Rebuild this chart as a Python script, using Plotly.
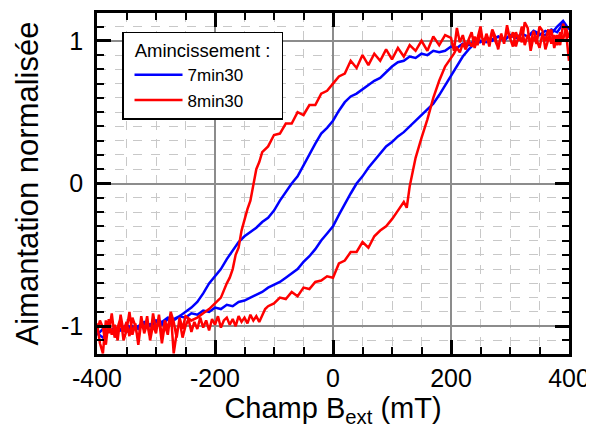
import plotly.graph_objects as go

# ---------------- data ----------------
# 7min30 : descending branch (+400 -> -400), then ascending branch (-400 -> +400)
b_up_x = [400, 390, 380, 370, 360, 350, 340, 330, 320, 310, 300, 290, 280, 270, 260, 250,
          240, 230, 220, 210, 200, 190, 180, 170, 160, 150, 140, 130, 120, 110, 100, 90,
          80, 70, 60, 50, 40, 30, 20, 10, 0, -10, -20, -30, -40, -50, -60, -70, -80, -90,
          -100, -110, -120, -130, -140, -150, -160, -170, -180, -190, -200, -210, -220,
          -230, -240, -250, -260, -270, -280, -290, -300, -310, -320, -330, -340, -350,
          -360, -370, -380, -390, -400]
b_up_y = [1.08, 1.12, 1.06, 1.08, 1.04, 1.05, 1.07, 1.03, 1.05, 1.02, 1.04, 1.01, 1.03, 1.00,
          1.02, 0.99, 1.00, 0.97, 0.98, 0.95, 0.96, 0.93, 0.92, 0.93, 0.90, 0.91, 0.88, 0.89,
          0.86, 0.85, 0.82, 0.78, 0.74, 0.72, 0.69, 0.66, 0.63, 0.61, 0.57, 0.51, 0.44, 0.39,
          0.35, 0.28, 0.20, 0.12, 0.05, 0.00, -0.06, -0.12, -0.19, -0.24, -0.27, -0.31, -0.34,
          -0.37, -0.41, -0.47, -0.53, -0.60, -0.65, -0.70, -0.77, -0.83, -0.87, -0.90, -0.93,
          -0.95, -0.94, -0.97, -0.96, -0.99, -0.97, -1.00, -1.02, -0.99, -1.03, -1.01, -1.04,
          -1.02, -1.06]
b_dn_x = [-400, -390, -380, -370, -360, -350, -340, -330, -320, -310, -300, -290, -280, -270,
          -260, -250, -240, -230, -220, -210, -200, -190, -180, -170, -160, -150, -140, -130,
          -120, -110, -100, -90, -80, -70, -60, -50, -40, -30, -20, -10, 0, 10, 20, 30, 40,
          50, 60, 70, 80, 90, 100, 110, 120, 130, 140, 150, 160, 170, 180, 190, 200, 210, 220,
          230, 240, 250, 260, 270, 280, 290, 300, 310, 320, 330, 340, 350, 360, 370, 380, 390, 400]
b_dn_y = [-1.05, -1.08, -1.03, -1.06, -1.02, -1.04, -1.00, -1.02, -0.98, -1.00, -0.97, -0.99,
          -0.95, -0.96, -0.93, -0.94, -0.91, -0.92, -0.89, -0.90, -0.87, -0.88, -0.85, -0.86,
          -0.83, -0.82, -0.80, -0.78, -0.76, -0.73, -0.71, -0.69, -0.66, -0.63, -0.60, -0.55,
          -0.51, -0.46, -0.40, -0.35, -0.30, -0.22, -0.14, -0.07, 0.00, 0.05, 0.11, 0.16, 0.21,
          0.26, 0.29, 0.33, 0.36, 0.40, 0.44, 0.48, 0.52, 0.56, 0.62, 0.69, 0.76, 0.83, 0.89,
          0.94, 0.98, 1.00, 0.99, 1.01, 1.03, 1.00, 1.04, 1.02, 1.05, 1.03, 1.06, 1.04, 1.07,
          1.05, 1.10, 1.14, 1.08]

# 8min30 : descending branch, then ascending branch
r_up_x = [400, 395, 390, 385, 380, 375, 370, 365, 360, 355, 350, 345, 340, 335, 330, 325,
          320, 315, 310, 305, 300, 295, 290, 285, 280, 275, 270, 265, 260, 255, 250, 245,
          240, 235, 230, 225, 220, 215, 210, 205, 200, 190, 180, 170, 160, 150, 140, 130,
          120, 110, 100, 90, 80, 70, 60, 50, 40, 30, 20, 10, 0, -10, -20, -30, -40, -50,
          -60, -70, -80, -90, -100, -110, -120, -125, -130, -135, -140, -145, -150, -155,
          -160, -165, -170, -175, -180, -190, -200, -210, -220, -230, -240, -250, -255,
          -260, -265, -270, -275, -280, -285, -290, -295, -300, -305, -310, -315, -320,
          -325, -330, -335, -340, -345, -350, -355, -360, -365, -370, -375, -380, -385,
          -390, -395, -400]
r_up_y = [0.86, 1.06, 1.12, 0.97, 1.04, 0.95, 1.08, 1.01, 0.94, 1.07, 1.10, 0.98, 1.03, 0.93,
          1.09, 1.13, 0.99, 1.04, 0.96, 1.06, 1.01, 1.11, 0.98, 1.05, 0.94, 1.03, 1.08, 0.99,
          1.05, 0.97, 1.10, 1.02, 0.95, 1.06, 1.01, 0.96, 1.04, 0.99, 1.09, 0.93, 1.02, 1.04,
          0.97, 1.03, 0.93, 1.00, 0.93, 0.97, 0.89, 0.95, 0.87, 0.94, 0.86, 0.91, 0.83, 0.90,
          0.81, 0.86, 0.77, 0.75, 0.70, 0.65, 0.63, 0.55, 0.55, 0.48, 0.50, 0.42, 0.42, 0.35,
          0.34, 0.26, 0.22, 0.15, 0.10, 0.00, -0.12, -0.18, -0.26, -0.33, -0.45, -0.50, -0.60,
          -0.66, -0.70, -0.80, -0.84, -0.88, -0.91, -0.94, -0.96, -0.93, -1.02, -0.94, -1.08,
          -0.97, -0.90, -1.06, -0.99, -1.12, -0.95, -1.03, -0.91, -1.09, -0.98, -1.05, -0.93,
          -1.11, -1.00, -0.94, -1.07, -0.97, -1.04, -0.92, -1.10, -0.99, -1.06, -0.95, -1.13,
          -1.01, -0.96, -1.04]
r_dn_x = [-400, -395, -390, -385, -380, -375, -370, -365, -360, -355, -350, -345, -340, -335,
          -330, -325, -320, -315, -310, -305, -300, -295, -290, -285, -280, -275, -270, -265,
          -260, -255, -250, -245, -240, -235, -230, -225, -220, -215, -210, -205, -200, -195,
          -190, -185, -180, -175, -170, -165, -160, -155, -150, -145, -140, -135, -130, -125,
          -120, -115, -110, -100, -90, -80, -70, -60, -50, -40, -30, -20, -10, 0, 10, 20, 30,
          40, 50, 60, 70, 80, 90, 100, 110, 120, 125, 130, 135, 140, 150, 160, 170, 180, 190,
          200, 205, 210, 215, 220, 225, 230, 235, 240, 245, 250, 255, 260, 265, 270, 275, 280,
          285, 290, 295, 300, 305, 310, 315, 320, 325, 330, 335, 340, 345, 350, 355, 360, 365,
          370, 375, 380, 385, 390, 395, 400]
r_dn_y = [-0.98, -1.12, -1.19, -0.96, -1.05, -0.91, -1.08, -1.00, -0.94, -1.10, -1.03, -0.90,
          -1.06, -0.98, -1.13, -0.97, -1.04, -0.93, -1.10, -0.99, -1.05, -0.92, -1.08, -0.96,
          -1.02, -0.90, -1.19, -1.05, -0.96, -1.08, -1.00, -0.95, -1.04, -0.97, -1.02, -0.94,
          -1.01, -0.96, -1.03, -0.95, -0.99, -0.93, -1.01, -0.96, -0.94, -0.99, -0.95, -1.00,
          -0.93, -0.97, -0.94, -0.98, -0.92, -0.96, -0.93, -0.97, -0.92, -0.88, -0.86, -0.84,
          -0.80, -0.81, -0.76, -0.79, -0.73, -0.74, -0.69, -0.68, -0.65, -0.66, -0.56, -0.54,
          -0.48, -0.48, -0.41, -0.45, -0.37, -0.33, -0.30, -0.25, -0.19, -0.13, -0.17, -0.02,
          0.08, 0.18, 0.32, 0.45, 0.60, 0.72, 0.82, 0.88, 0.91, 0.95, 0.92, 0.98, 0.94, 1.00,
          0.96, 1.03, 0.97, 1.06, 0.99, 1.04, 0.96, 1.07, 1.00, 0.95, 1.05, 0.99, 1.08, 1.02,
          0.96, 1.06, 1.00, 1.10, 0.97, 1.04, 0.99, 1.07, 1.01, 0.95, 1.05, 1.00, 1.08, 0.98,
          1.04, 0.97, 1.06, 1.01, 1.09, 1.02]

series_names = ["7min30", "8min30"]
series_colors = ["#0000ff", "#ff0000"]
legend_title = "Amincissement :"

x_tickvals = [-400, -200, 0, 200, 400]
x_ticktext = ["-400", "-200", "0", "200", "400"]
y_tickvals = [-1, 0, 1]
y_ticktext = ["-1", "0", "1"]

x_title = "Champ B<sub>ext</sub> (mT)"
y_title = "Aimantation normalisée"

# ---------------- figure ----------------
FONT = "Liberation Sans, Arial, sans-serif"

fig = go.Figure()
fig.add_trace(go.Scatter(x=b_up_x + b_dn_x, y=b_up_y + b_dn_y, mode="lines",
                         name=series_names[0],
                         line=dict(color=series_colors[0], width=2.5)))
fig.add_trace(go.Scatter(x=r_up_x + r_dn_x, y=r_up_y + r_dn_y, mode="lines",
                         name=series_names[1],
                         line=dict(color=series_colors[1], width=2.5)))

axis_common = dict(
    showline=True, linecolor="black", linewidth=2.5, mirror="ticks",
    ticks="inside", ticklen=14, tickwidth=2.5, tickcolor="black",
    showgrid=True, gridcolor="#8c8c8c", gridwidth=1.5,
    zeroline=False, automargin=False,
    tickfont=dict(family=FONT, size=25, color="black"),
)

fig.update_xaxes(
    **axis_common,
    range=[-400, 400],
    tickmode="array", tickvals=x_tickvals, ticktext=x_ticktext,
    ticklabelstandoff=0,
    minor=dict(tickmode="linear", tick0=0, dtick=50, ticks="inside", ticklen=7,
               tickwidth=2, tickcolor="black", showgrid=True,
               gridcolor="#c8c8c8", griddash="dash", gridwidth=1),
    title=dict(text=x_title, font=dict(family=FONT, size=29, color="black"), standoff=4),
)
fig.update_yaxes(
    **axis_common,
    range=[-1.195, 1.195],
    tickmode="array", tickvals=y_tickvals, ticktext=y_ticktext,
    ticklabelstandoff=6,
    minor=dict(tickmode="linear", tick0=0, dtick=0.1, ticks="inside", ticklen=7,
               tickwidth=2, tickcolor="black", showgrid=True,
               gridcolor="#c8c8c8", griddash="dash", gridwidth=1),
    title=dict(text=y_title, font=dict(family=FONT, size=31, color="black"), standoff=14),
)

# invisible padding so the legend box is as wide as in the reference
PAD = "\u00a0\u2009"

# the page body has an 8px default margin, so the figure is drawn 8px in
fig.update_layout(
    width=586, height=428,
    margin=dict(l=89, r=25, t=5, b=82),
    paper_bgcolor="white", plot_bgcolor="white",
    showlegend=True,
    legend=dict(
        title=dict(text=PAD + legend_title + PAD, side="top center",
                   font=dict(family=FONT, size=18.5, color="black")),
        font=dict(family=FONT, size=17, color="black"),
        x=0.053, y=0.945, xanchor="left", yanchor="top",
        bgcolor="white", bordercolor="black", borderwidth=1.5,
        itemwidth=48, tracegroupgap=0, indentation=6,
    ),
)

fig.write_html("out.html")
